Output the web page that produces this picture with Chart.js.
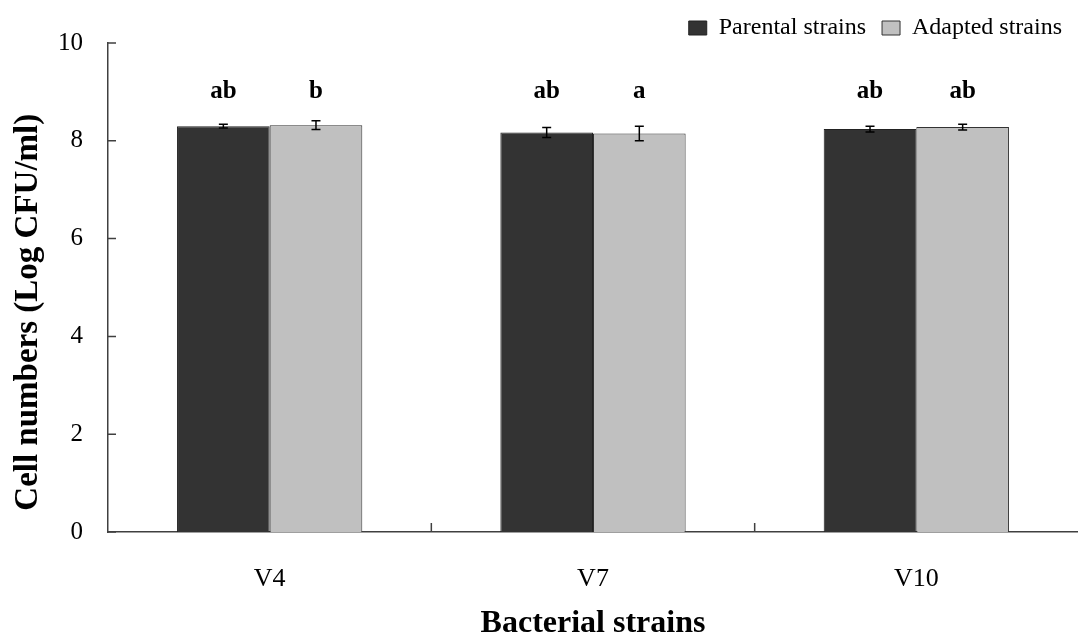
<!DOCTYPE html>
<html><head><meta charset="utf-8">
<script src="https://cdn.jsdelivr.net/npm/chart.js@4"></script>
<style>html,body{margin:0;padding:0;background:#fff;} #wrap{width:1078px;height:635px;}</style>
</head><body><div id="wrap"><canvas id="c" width="1078" height="635"></canvas></div>
<script>
const categories = ['V4', 'V7', 'V10'];
const seriesNames = ['Parental strains', 'Adapted strains'];
const parentalValues = [8.30, 8.17, 8.24];
const adaptedValues = [8.32, 8.15, 8.28];
const parentalErrors = [0.04, 0.10, 0.06];
const adaptedErrors = [0.09, 0.15, 0.06];
const parentalLetters = ['ab', 'ab', 'ab'];
const adaptedLetters = ['b', 'a', 'ab'];
const yTicks = [0, 2, 4, 6, 8, 10];
const letterLevel = 9.0;
const xTitle = 'Bacterial strains';
const yTitle = 'Cell numbers (Log CFU/ml)';

const SERIF = '"Liberation Serif", "Times New Roman", serif';

const legendFitPlugin = {
  id: 'legendFit',
  beforeInit(chart) {
    const origFit = chart.legend.fit;
    chart.legend.fit = function () {
      origFit.bind(chart.legend)();
      this.height -= 7;
    };
  }
};

const extrasPlugin = {
  id: 'extras',
  afterDatasetsDraw(chart) {
    const ctx = chart.ctx;
    const y = chart.scales.y, x = chart.scales.x;
    const errs = [parentalErrors, adaptedErrors];
    const letters = [parentalLetters, adaptedLetters];
    ctx.save();
    chart.data.datasets.forEach((ds, di) => {
      const meta = chart.getDatasetMeta(di);
      meta.data.forEach((bar, i) => {
        const v = ds.data[i], e = errs[di][i];
        const yt = y.getPixelForValue(v + e), yb = y.getPixelForValue(v - e);
        ctx.strokeStyle = '#000';
        ctx.lineWidth = 1.5;
        ctx.beginPath();
        ctx.moveTo(bar.x, yt); ctx.lineTo(bar.x, yb);
        ctx.moveTo(bar.x - 4.5, yt); ctx.lineTo(bar.x + 4.5, yt);
        ctx.moveTo(bar.x - 4.5, yb); ctx.lineTo(bar.x + 4.5, yb);
        ctx.stroke();
        ctx.fillStyle = '#000';
        ctx.font = 'bold 25px ' + SERIF;
        ctx.textAlign = 'center';
        ctx.textBaseline = 'middle';
        ctx.fillText(letters[di][i], bar.x, y.getPixelForValue(letterLevel));
      });
    });
    const ca = chart.chartArea;
    ctx.strokeStyle = '#404040';
    ctx.lineWidth = 1.5;
    ctx.beginPath();
    y.ticks.forEach(t => {
      const py = y.getPixelForValue(t.value);
      ctx.moveTo(ca.left, py); ctx.lineTo(ca.left + 8, py);
    });
    for (let i = 0; i < categories.length - 1; i++) {
      const px = (x.getPixelForValue(i) + x.getPixelForValue(i + 1)) / 2;
      ctx.moveTo(px, ca.bottom); ctx.lineTo(px, ca.bottom - 9);
    }
    ctx.stroke();
    ctx.restore();
  }
};

new Chart(document.getElementById('c'), {
  type: 'bar',
  data: {
    labels: categories,
    datasets: [
      { label: seriesNames[0], data: parentalValues, backgroundColor: '#333333', borderColor: '#222222', borderWidth: 1 },
      { label: seriesNames[1], data: adaptedValues, backgroundColor: '#c0c0c0', borderColor: '#333333', borderWidth: 1 }
    ]
  },
  options: {
    responsive: false,
    animation: false,
    devicePixelRatio: 1,
    layout: { padding: { top: 0, right: 0, bottom: 0, left: 0 } },
    datasets: { bar: { categoryPercentage: 0.573, barPercentage: 1.0 } },
    plugins: {
      legend: {
        position: 'top',
        align: 'end',
        labels: {
          font: { family: SERIF, size: 24 },
          color: '#000',
          boxWidth: 18,
          boxHeight: 14,
          padding: 16
        }
      },
      tooltip: { enabled: false }
    },
    scales: {
      x: {
        afterFit: (scale) => { scale.height = 103; },
        grid: { display: false, drawTicks: false },
        border: { display: true, color: '#404040', width: 1.5 },
        ticks: { font: { family: SERIF, size: 26 }, color: '#000', padding: 32 },
        title: { display: true, text: xTitle, font: { family: SERIF, size: 32, weight: 'bold' }, color: '#000', padding: { top: 0, bottom: -8 } }
      },
      y: {
        min: 0, max: 10,
        afterBuildTicks: (scale) => { scale.ticks = yTicks.map(v => ({ value: v })); },
        afterFit: (scale) => { scale.width = 108; },
        grid: { display: false, drawTicks: false },
        border: { display: true, color: '#404040', width: 1.5 },
        ticks: { font: { family: SERIF, size: 25 }, color: '#000', padding: 25 },
        title: { display: true, text: yTitle + '      ', font: { family: SERIF, size: 33, weight: 'bold' }, color: '#000', padding: { top: 9, bottom: 0 } }
      }
    }
  },
  plugins: [legendFitPlugin, extrasPlugin]
});
</script>
</body></html>
